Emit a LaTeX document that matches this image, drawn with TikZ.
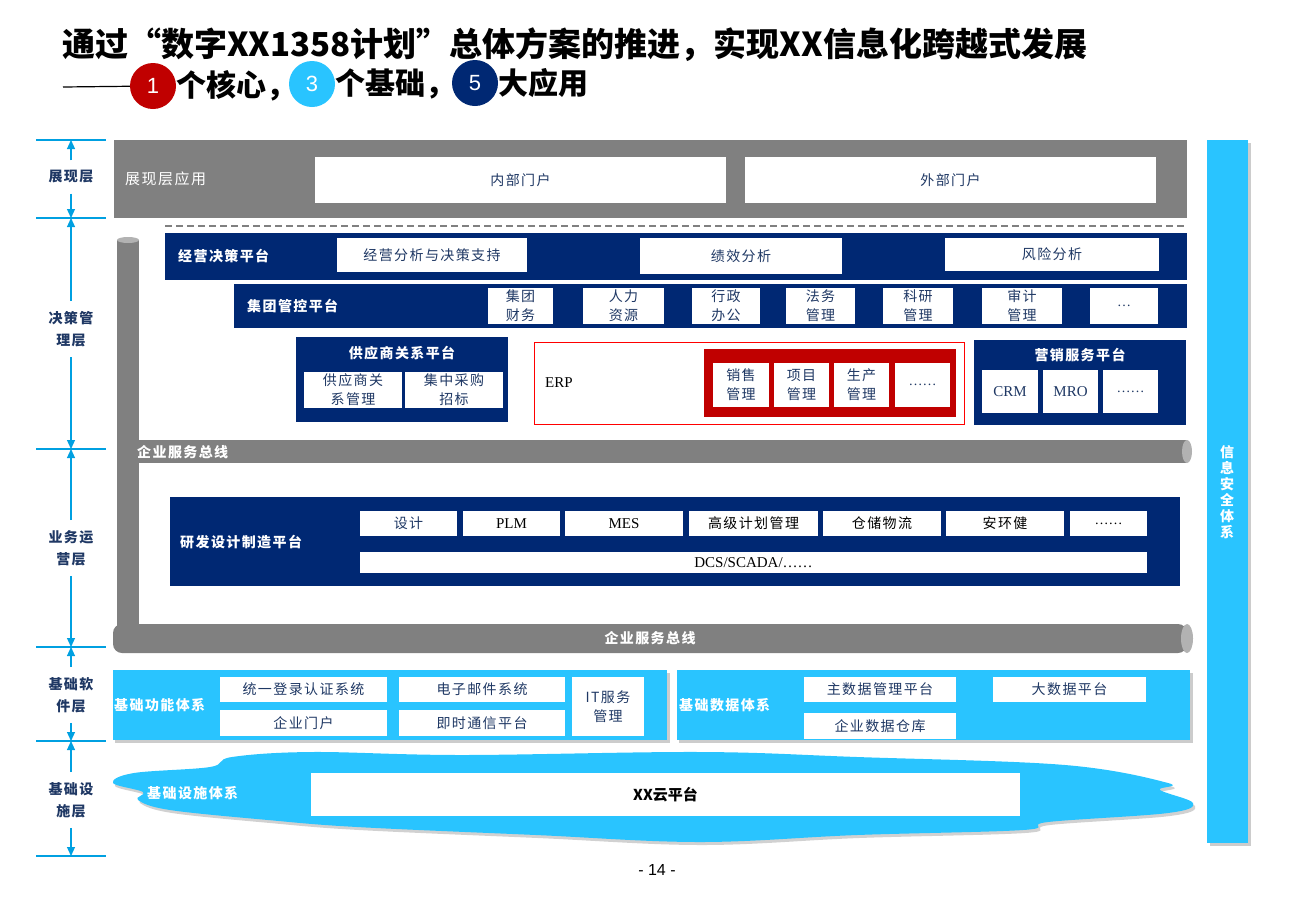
\documentclass[tikz,border=0pt]{standalone}
\usepackage{fontspec}
\usepackage{tikz}
\usetikzlibrary{arrows.meta}
\setmainfont{Liberation Serif}
\newfontfamily\cjk{Noto Sans CJK SC}
\newfontfamily\cjks[LetterSpace=10]{Noto Sans CJK SC}
\newfontfamily\pagefont{Liberation Sans}
\definecolor{deepnavy}{RGB}{0,40,115}
\definecolor{boxtext}{RGB}{31,56,100}
\definecolor{basecyan}{RGB}{41,196,255}
\definecolor{rulecyan}{RGB}{0,160,225}
\definecolor{busgray}{RGB}{128,128,128}
\definecolor{capgray}{RGB}{178,178,178}
\definecolor{corered}{RGB}{192,0,0}

\begin{document}
\begin{tikzpicture}[x=1pt,y=-1pt,
	sz/.style 2 args={minimum width=#1pt,minimum height=#2pt}]
		 \tikzstyle{wbox}=[fill=white, inner sep=0pt, align=center, text=boxtext, font=\cjks\fontsize{14}{19}\selectfont]
		 \tikzstyle{latin}=[font=\fontsize{15}{18}\selectfont]
		 \tikzstyle{plat}=[anchor=west, inner sep=0pt, text=white, font=\cjks\bfseries\fontsize{14}{18}\selectfont]
		 \tikzstyle{layer}=[align=center, inner xsep=0pt, inner ysep=10pt, text=boxtext, font=\cjks\bfseries\fontsize{14}{22}\selectfont]
		 \tikzstyle{ruler}=[draw=rulecyan, line width=1.5pt]
		 \tikzstyle{rarrow}=[draw=rulecyan, line width=1.2pt, -{Triangle[length=9pt,width=8pt]}]
		 \tikzstyle{num}=[circle, minimum size=46pt, inner sep=0pt, text=white, font=\pagefont\fontsize{22}{24}\selectfont]
		 \tikzstyle{sub}=[anchor=west, inner sep=0pt, font=\cjk\bfseries\fontsize{30}{34}\selectfont]
		 \tikzstyle{busl}=[plat, font=\cjks\bfseries\fontsize{14}{16}\selectfont]

	\useasboundingbox (0,0) rectangle (1300,900);

	% title
		  \node[anchor=west, inner sep=0pt, font=\cjk\bfseries\fontsize{33}{36}\selectfont] (title) at (62,45) {通过“数字XX1358计划”总体方案的推进，实现XX信息化跨越式发展};
		  \coordinate (dash0) at (63,87);
		  \node[num, fill=corered]  (n1) at (153,86) {1};
		  \node[num, fill=basecyan] (n3) at (312,84) {3};
		  \node[num, fill=deepnavy] (n5) at (475,83) {5};
		  \draw[line width=1.2pt] (dash0) -- (n1);
		  \node[sub] (t1) at (n1.east) {个核心，};
		  \node[sub] (t3) at (n3.east) {个基础，};
		  \node[sub] (t5) at (n5.east) {大应用};

	% layer ruler
		  \foreach \y/\n in {140/r0,218/r1,449/r2,647/r3,741/r4,856/r5}
		  	{\coordinate (\n) at (71,\y); \draw[ruler] (36,\y) -- (106,\y);}
		  \node[layer] (L1) at (71,177) {展现层};
		  \node[layer] (L2) at (71,329) {决策管\\理层};
		  \node[layer] (L3) at (71,548) {业务运\\营层};
		  \node[layer] (L4) at (71,695) {基础软\\件层};
		  \node[layer] (L5) at (71,800) {基础设\\施层};
		  \foreach \a/\b/\c in {L1/r0/r1,L2/r1/r2,L3/r2/r3,L4/r3/r4,L5/r4/r5}
		  	{\draw[rarrow] (\a.north) -- (\b); \draw[rarrow] (\a.south) -- (\c);}

	% presentation layer
		  \fill[busgray] (114,140) rectangle (1187,218);
		  \node[plat, font=\cjks\fontsize{15}{18}\selectfont] (zxyy) at (125,179) {展现层应用};
		  \node[wbox, sz={411}{46}] (nbmh) at (520.5,180) {内部门户};
		  \node[wbox, sz={411}{46}] (wbmh) at (950.5,180) {外部门户};
		  \draw[busgray, line width=2pt, dash pattern=on 7pt off 4pt] (165,226) -- (1187,226);

	% service bus
		  \fill[busgray] (117,240) rectangle (139,630);
		  \fill[busgray] (117,440) rectangle (1187,463);
		  \fill[busgray, rounded corners=9pt] (113,624) rectangle (1187,653);
		  \fill[capgray] (128,240) ellipse [x radius=11pt, y radius=3pt];
		  \fill[capgray] (1187,451.5) ellipse [x radius=5pt, y radius=11.5pt];
		  \fill[capgray] (1187,638.5) ellipse [x radius=6pt, y radius=14.5pt];
		  \node[busl] (bus1) at (137,452) {企业服务总线};
		  \node[busl, anchor=center] (bus2) at (650,638) {企业服务总线};

	% decision layer
		  \fill[deepnavy] (165,233) rectangle (1187,280);
		  \node[plat] (jyjc) at (178,256) {经营决策平台};
		  \node[wbox, sz={190}{34}] (jyfx) at (432,255) {经营分析与决策支持};
		  \node[wbox, sz={202}{36}] (jxfx) at (741,256) {绩效分析};
		  \node[wbox, sz={214}{33}] (fxfx) at (1052,254.5) {风险分析};

		  \fill[deepnavy] (234,284) rectangle (1187,328);
		  \node[plat] (jtgk) at (247,306) {集团管控平台};
		  \node[wbox, sz={65}{36}] (jtcw) at (520.5,306) {集团\\财务};
		  \node[wbox, sz={81}{36}] (rlzy) at (623.5,306) {人力\\资源};
		  \node[wbox, sz={68}{36}] (xzbg) at (726,306) {行政\\办公};
		  \node[wbox, sz={69}{36}] (fwgl) at (820.5,306) {法务\\管理};
		  \node[wbox, sz={70}{36}] (kygl) at (918,306) {科研\\管理};
		  \node[wbox, sz={80}{36}] (sjgl) at (1022,306) {审计\\管理};
		  \node[wbox, sz={68}{36}, font=\fontsize{14}{16}\selectfont] (jtmore) at (1124,306) {…};

		  \fill[deepnavy] (296,337) rectangle (508,422);
		  \node[plat, anchor=center] (gysp) at (402,353) {供应商关系平台};
		  \node[wbox, sz={98}{36}] (gysgl) at (353,390) {供应商关\\系管理};
		  \node[wbox, sz={98}{36}] (jzcg) at (454,390) {集中采购\\招标};

		  \draw[red, line width=1pt] (534,342) rectangle (964,424);
		  \node[latin, anchor=west, inner sep=0pt] (erp) at (545,383) {ERP};
		  \fill[corered] (704,349) rectangle (956,417);
		  \node[wbox, sz={56}{44}] (xsgl) at (741,385) {销售\\管理};
		  \node[wbox, sz={55}{44}] (xmgl) at (801.5,385) {项目\\管理};
		  \node[wbox, sz={55}{44}] (scgl) at (861.5,385) {生产\\管理};
		  \node[wbox, sz={55}{44}, font=\fontsize{14}{16}\selectfont] (erpmore) at (922.5,385) {……};

		  \fill[deepnavy] (974,340) rectangle (1186,425);
		  \node[plat, anchor=center] (yxfw) at (1080,355) {营销服务平台};
		  \node[wbox, sz={56}{43}, latin] (crm) at (1010,391.5) {CRM};
		  \node[wbox, sz={55}{43}, latin] (mro) at (1070.5,391.5) {MRO};
		  \node[wbox, sz={55}{43}, font=\fontsize{14}{16}\selectfont] (yxmore) at (1130.5,391.5) {……};

	% operation layer
		  \fill[deepnavy] (170,497) rectangle (1180,586);
		  \node[plat] (yfsj) at (180,542) {研发设计制造平台};
		  \node[wbox, sz={97}{25}] (sj) at (408.5,523.5) {设计};
		  \node[wbox, sz={97}{25}, latin, text=black] (plm) at (511.5,523.5) {PLM};
		  \node[wbox, sz={118}{25}, latin, text=black] (mes) at (624,523.5) {MES};
		  \node[wbox, sz={129}{25}, text=black] (gjjh) at (753.5,523.5) {高级计划管理};
		  \node[wbox, sz={118}{25}, text=black] (ccwl) at (882,523.5) {仓储物流};
		  \node[wbox, sz={118}{25}, text=black] (ahj) at (1005,523.5) {安环健};
		  \node[wbox, sz={77}{25}, text=black, font=\fontsize{14}{16}\selectfont] (yfmore) at (1108.5,523.5) {……};
		  \node[wbox, sz={787}{21}, latin, text=black] (dcs) at (753.5,562.5) {DCS/SCADA/……};

	% security column
		  \fill[black!20] (1210,143) rectangle (1251,846);
		  \fill[basecyan] (1207,140) rectangle (1248,843);
		  \node[plat, anchor=center, align=center, font=\cjk\bfseries\fontsize{14}{16}\selectfont] (xxaq) at (1227,492) {信\\息\\安\\全\\体\\系};

	% basic software layer
		  \fill[black!20] (115,673) rectangle (670,743);
		  \fill[basecyan] (113,670) rectangle (667,740);
		  \node[plat] (jcgn) at (114,705) {基础功能体系};
		  \node[wbox, sz={167}{25}] (tydl) at (303.5,689.5) {统一登录认证系统};
		  \node[wbox, sz={167}{26}] (qymh) at (303.5,723) {企业门户};
		  \node[wbox, sz={166}{25}] (dzyj) at (482,689.5) {电子邮件系统};
		  \node[wbox, sz={166}{26}] (jstx) at (482,723) {即时通信平台};
		  \node[wbox, sz={72}{59}] (itfw) at (608,706.5) {IT服务\\管理};

		  \fill[black!20] (679,673) rectangle (1193,743);
		  \fill[basecyan] (677,670) rectangle (1190,740);
		  \node[plat] (jcsj) at (679,705) {基础数据体系};
		  \node[wbox, sz={152}{25}] (zsj) at (880,689.5) {主数据管理平台};
		  \node[wbox, sz={152}{26}] (sjck) at (880,726) {企业数据仓库};
		  \node[wbox, sz={153}{25}] (dsj) at (1069.5,689.5) {大数据平台};

	% infrastructure layer
		  \fill[black!18, xshift=2pt, yshift=-3pt] plot[smooth cycle, tension=0.6] coordinates {(113,783) (134,773) (210,767) (232,757) (312,752) (462,755) (700,752) (857,757) (1065,765) (1168,783) (1160,790) (1193,803) (1168,813) (1048,822) (1023,830) (857,835) (700,842) (536,835) (357,827) (268,820) (170,810) (138,800) (143,792)};
		  \fill[basecyan] plot[smooth cycle, tension=0.6] coordinates {(113,783) (134,773) (210,767) (232,757) (312,752) (462,755) (700,752) (857,757) (1065,765) (1168,783) (1160,790) (1193,803) (1168,813) (1048,822) (1023,830) (857,835) (700,842) (536,835) (357,827) (268,820) (170,810) (138,800) (143,792)};
		  \node[plat] (jcss) at (147,793) {基础设施体系};
		  \node[wbox, sz={709}{43}, text=black, font=\cjk\bfseries\fontsize{15}{18}\selectfont] (yun) at (665.5,794.5) {XX云平台};

		  \node[font=\pagefont\fontsize{16}{18}\selectfont] (page) at (657,870) {- 14 -};

\end{tikzpicture}
\end{document}
